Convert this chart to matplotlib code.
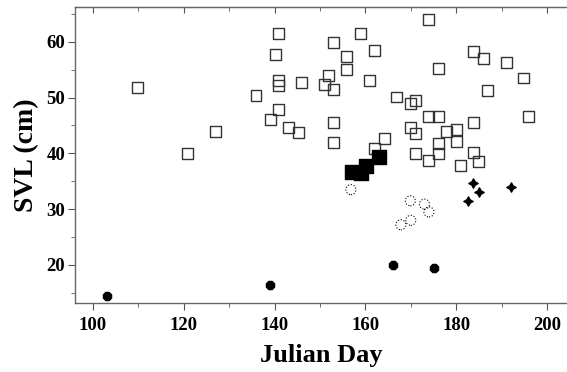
import numpy as np
import matplotlib
matplotlib.use("Agg")
import matplotlib.pyplot as plt
from matplotlib.ticker import MultipleLocator

# open squares
sq_day = [109.9, 120.9, 126.9, 135.9, 140.8, 140.2, 140.8, 140.8, 140.8, 139.1,
          143.0, 145.2, 145.9, 151.9, 150.9, 153.0, 153.0, 153.0, 153.0, 173.9,
          159.0, 155.8, 162.0, 155.8, 160.9, 176.0, 183.8, 186.0, 191.0, 194.9,
          186.8, 195.9, 166.8, 170.0, 171.0, 173.9, 176.1, 170.0, 171.0, 177.8,
          180.0, 183.8, 180.0, 176.1, 176.1, 164.2, 162.0, 171.0, 173.9, 181.0,
          183.8, 185.0]
sq_svl = [51.8, 39.9, 43.9, 50.3, 61.4, 57.7, 53.0, 52.1, 47.8, 46.0,
          44.7, 43.8, 52.7, 53.9, 52.4, 51.5, 59.9, 45.5, 42.0, 64.0,
          61.4, 57.3, 58.5, 55.0, 53.0, 55.2, 58.2, 57.0, 56.2, 53.5,
          51.3, 46.6, 50.1, 49.0, 49.5, 46.6, 46.6, 44.7, 43.5, 43.9,
          44.2, 45.5, 42.1, 41.8, 39.9, 42.6, 40.8, 40.0, 38.7, 37.9,
          40.2, 38.5]

# filled squares
fsq_day = [157.0, 159.0, 160.1, 163.0]
fsq_svl = [36.6, 36.5, 37.8, 39.4]

# open circles
oc_day = [156.8, 169.9, 173.0, 174.0, 170.0, 167.8]
oc_svl = [33.5, 31.5, 30.9, 29.5, 28.0, 27.2]

# filled circles
fc_day = [103.0, 139.0, 166.1, 175.0]
fc_svl = [14.5, 16.5, 20.0, 19.4]

# stars
st_day = [183.8, 185.0, 182.7, 192.1]
st_svl = [34.7, 33.0, 31.5, 33.9]

fig = plt.figure(figsize=(5.67, 3.72), dpi=100)
ax = fig.add_axes([75/567, 1-303/372, 1-75/567, 296/372])

ax.scatter(sq_day, sq_svl, marker='s', s=62, facecolors='none',
           edgecolors='#333333', linewidths=1.0, zorder=2)
ax.scatter(fsq_day, fsq_svl, marker='s', s=105, color='black', zorder=3)
ax.scatter(oc_day, oc_svl, marker='o', s=52, facecolors='none',
           edgecolors='black', linewidths=0.8, linestyles=':', zorder=2)
ax.scatter(fc_day, fc_svl, marker='8', s=40, color='black', zorder=3)
ax.scatter(st_day, st_svl, marker=(4, 1, 0), s=45, color='black', zorder=3)

ax.set_xlim(96.04, 204.4)
ax.set_ylim(13.19, 66.22)
ax.set_xticks([100, 120, 140, 160, 180, 200])
ax.set_yticks([20, 30, 40, 50, 60])
ax.xaxis.set_minor_locator(MultipleLocator(10))
ax.yaxis.set_minor_locator(MultipleLocator(5))

for s in ['left', 'top', 'bottom']:
    ax.spines[s].set_color('#666666')
    ax.spines[s].set_linewidth(1.0)
ax.spines['right'].set_visible(False)

ax.tick_params(axis='both', which='both', color='#555555', direction='out')
ax.tick_params(axis='x', which='major', length=5)
ax.tick_params(axis='x', which='minor', length=3)
ax.tick_params(axis='y', which='major', length=5)
ax.tick_params(axis='y', which='minor', length=3)

# top ticks point inward
top = ax.secondary_xaxis('top')
top.set_xticks([100, 120, 140, 160, 180, 200])
top.xaxis.set_minor_locator(MultipleLocator(10))
top.set_xticklabels([])
top.tick_params(which='both', direction='in', color='#555555')
top.tick_params(which='major', length=4)
top.tick_params(which='minor', length=3)
top.spines['top'].set_color('#666666')

for lab in ax.get_xticklabels() + ax.get_yticklabels():
    lab.set_fontfamily('Liberation Serif')
    lab.set_fontweight('bold')
    lab.set_fontsize(13.5)
ax.tick_params(axis='x', pad=5)
ax.tick_params(axis='y', pad=2)

ax.set_xlabel('Julian Day', fontfamily='Liberation Serif', fontweight='bold',
              fontsize=19, labelpad=7)
ax.set_ylabel('SVL (cm)', fontfamily='Liberation Serif', fontweight='bold',
              fontsize=20, labelpad=5)

fig.savefig('out.png', dpi=100)
